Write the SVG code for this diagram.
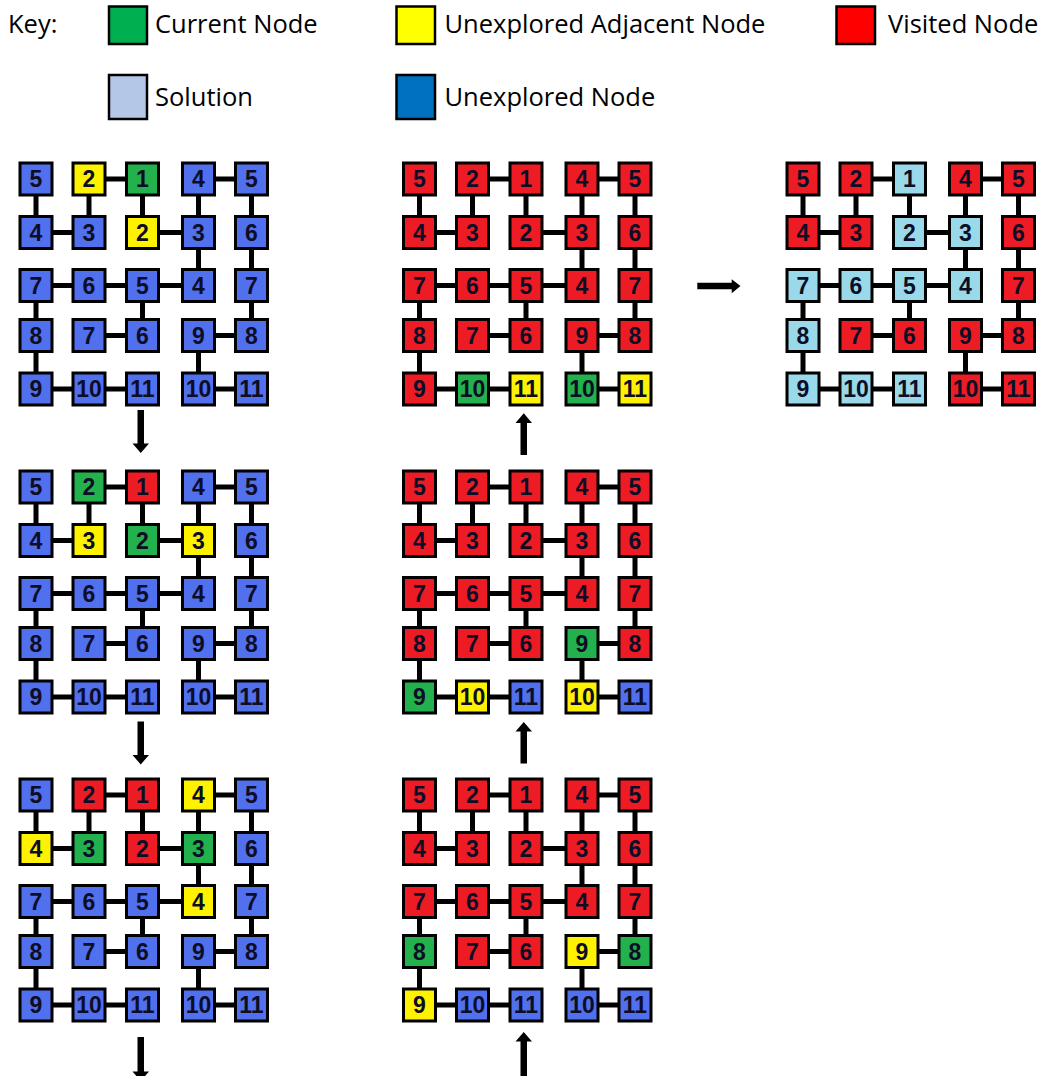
<svg xmlns="http://www.w3.org/2000/svg" width="1048" height="1076" viewBox="0 0 1048 1076">
<style>
.n rect{stroke:#000;stroke-width:3}
.n text{font-family:"Liberation Sans",Arial,sans-serif;font-weight:bold;font-size:23px;text-anchor:middle;fill:#0d0d26}
.b rect{fill:#5170EE}
.r rect{fill:#ED1C24}
.g rect{fill:#22B14C}
.y rect{fill:#FFF200}
.s rect{fill:#99D9EA}
.edges{stroke:#000;stroke-width:5;fill:none}
.arrow{fill:#000}
.key rect{stroke:#000;stroke-width:2.5}
.key text{font-family:"Open Sans","Noto Sans",sans-serif;font-size:25.5px;fill:#000}
</style>
<defs>
<path id="maze" class="edges" d="M89 179H142.5M198.5 179H251.5M36 179V232.5M89 179V232.5M142.5 179V232.5M198.5 179V232.5M251.5 179V232.5M36 232.5H89M142.5 232.5H198.5M198.5 232.5V285.5M251.5 232.5V285.5M36 285.5H89M89 285.5H142.5M142.5 285.5H198.5M36 285.5V335.5M142.5 285.5V335.5M251.5 285.5V335.5M89 335.5H142.5M198.5 335.5H251.5M36 335.5V389M198.5 335.5V389M36 389H89M89 389H142.5M198.5 389H251.5"/>
</defs>
<rect width="1048" height="1076" fill="#fff"/>
<g id="key" class="key">
<text x="8" y="33">Key:</text>
<g id="key-current"><rect x="109" y="6.5" width="38" height="37.5" fill="#00B050"/><text x="155" y="33">Current Node</text></g>
<g id="key-adjacent"><rect x="396.5" y="6.5" width="38.5" height="37.5" fill="#FFFF00"/><text x="444.5" y="33">Unexplored Adjacent Node</text></g>
<g id="key-visited"><rect x="836.5" y="6.5" width="38.5" height="37.5" fill="#FF0000"/><text x="888" y="33">Visited Node</text></g>
<g id="key-solution"><rect x="109" y="75" width="38" height="44" fill="#B4C7E7"/><text x="155" y="106">Solution</text></g>
<g id="key-unexplored"><rect x="396.5" y="75" width="38.5" height="44" fill="#0070C0"/><text x="444.5" y="106">Unexplored Node</text></g>
</g>
<g id="connectors">
<use href="#maze"/>
<use href="#maze" transform="translate(0,308)"/>
<use href="#maze" transform="translate(0,616)"/>
<use href="#maze" transform="translate(383.5,0)"/>
<use href="#maze" transform="translate(383.5,308)"/>
<use href="#maze" transform="translate(383.5,616)"/>
<use href="#maze" transform="translate(767,0)"/>
<polygon class="arrow" points="137.5,410 144,410 144,443.5 149,443.5 140.75,453 132.5,443.5 137.5,443.5"/>
<polygon class="arrow" points="137.5,721.5 144,721.5 144,755 149,755 140.75,764.5 132.5,755 137.5,755"/>
<polygon class="arrow" points="137.5,1037 144,1037 144,1071.5 149,1071.5 140.75,1081 132.5,1071.5 137.5,1071.5"/>
<polygon class="arrow" points="520.5,455 527,455 527,423 532,423 523.75,413.3 515.5,423 520.5,423"/>
<polygon class="arrow" points="520.5,763.5 527,763.5 527,731.5 532,731.5 523.75,722 515.5,731.5 520.5,731.5"/>
<polygon class="arrow" points="520.5,1076 527,1076 527,1041.5 532,1041.5 523.75,1032 515.5,1041.5 520.5,1041.5"/>
<polygon class="arrow" points="697.3,282.7 731.7,282.7 731.7,279.3 740.5,286 731.7,293.3 731.7,289.3 697.3,289.3"/>
</g>
<g id="grid-1" transform="translate(0,0)">
<g id="g1-r0c0" class="n b"><rect x="20" y="163" width="32" height="32"/><text x="36" y="187.2">5</text></g>
<g id="g1-r0c1" class="n y"><rect x="73" y="163" width="32" height="32"/><text x="89" y="187.2">2</text></g>
<g id="g1-r0c2" class="n g"><rect x="126.5" y="163" width="32" height="32"/><text x="142.5" y="187.2">1</text></g>
<g id="g1-r0c3" class="n b"><rect x="182.5" y="163" width="32" height="32"/><text x="198.5" y="187.2">4</text></g>
<g id="g1-r0c4" class="n b"><rect x="235.5" y="163" width="32" height="32"/><text x="251.5" y="187.2">5</text></g>
<g id="g1-r1c0" class="n b"><rect x="20" y="216.5" width="32" height="32"/><text x="36" y="240.7">4</text></g>
<g id="g1-r1c1" class="n b"><rect x="73" y="216.5" width="32" height="32"/><text x="89" y="240.7">3</text></g>
<g id="g1-r1c2" class="n y"><rect x="126.5" y="216.5" width="32" height="32"/><text x="142.5" y="240.7">2</text></g>
<g id="g1-r1c3" class="n b"><rect x="182.5" y="216.5" width="32" height="32"/><text x="198.5" y="240.7">3</text></g>
<g id="g1-r1c4" class="n b"><rect x="235.5" y="216.5" width="32" height="32"/><text x="251.5" y="240.7">6</text></g>
<g id="g1-r2c0" class="n b"><rect x="20" y="269.5" width="32" height="32"/><text x="36" y="293.7">7</text></g>
<g id="g1-r2c1" class="n b"><rect x="73" y="269.5" width="32" height="32"/><text x="89" y="293.7">6</text></g>
<g id="g1-r2c2" class="n b"><rect x="126.5" y="269.5" width="32" height="32"/><text x="142.5" y="293.7">5</text></g>
<g id="g1-r2c3" class="n b"><rect x="182.5" y="269.5" width="32" height="32"/><text x="198.5" y="293.7">4</text></g>
<g id="g1-r2c4" class="n b"><rect x="235.5" y="269.5" width="32" height="32"/><text x="251.5" y="293.7">7</text></g>
<g id="g1-r3c0" class="n b"><rect x="20" y="319.5" width="32" height="32"/><text x="36" y="343.7">8</text></g>
<g id="g1-r3c1" class="n b"><rect x="73" y="319.5" width="32" height="32"/><text x="89" y="343.7">7</text></g>
<g id="g1-r3c2" class="n b"><rect x="126.5" y="319.5" width="32" height="32"/><text x="142.5" y="343.7">6</text></g>
<g id="g1-r3c3" class="n b"><rect x="182.5" y="319.5" width="32" height="32"/><text x="198.5" y="343.7">9</text></g>
<g id="g1-r3c4" class="n b"><rect x="235.5" y="319.5" width="32" height="32"/><text x="251.5" y="343.7">8</text></g>
<g id="g1-r4c0" class="n b"><rect x="20" y="373" width="32" height="32"/><text x="36" y="397.2">9</text></g>
<g id="g1-r4c1" class="n b"><rect x="73" y="373" width="32" height="32"/><text x="89" y="397.2">10</text></g>
<g id="g1-r4c2" class="n b"><rect x="126.5" y="373" width="32" height="32"/><text x="142.5" y="397.2">11</text></g>
<g id="g1-r4c3" class="n b"><rect x="182.5" y="373" width="32" height="32"/><text x="198.5" y="397.2">10</text></g>
<g id="g1-r4c4" class="n b"><rect x="235.5" y="373" width="32" height="32"/><text x="251.5" y="397.2">11</text></g>
</g>
<g id="grid-2" transform="translate(0,308)">
<g id="g2-r0c0" class="n b"><rect x="20" y="163" width="32" height="32"/><text x="36" y="187.2">5</text></g>
<g id="g2-r0c1" class="n g"><rect x="73" y="163" width="32" height="32"/><text x="89" y="187.2">2</text></g>
<g id="g2-r0c2" class="n r"><rect x="126.5" y="163" width="32" height="32"/><text x="142.5" y="187.2">1</text></g>
<g id="g2-r0c3" class="n b"><rect x="182.5" y="163" width="32" height="32"/><text x="198.5" y="187.2">4</text></g>
<g id="g2-r0c4" class="n b"><rect x="235.5" y="163" width="32" height="32"/><text x="251.5" y="187.2">5</text></g>
<g id="g2-r1c0" class="n b"><rect x="20" y="216.5" width="32" height="32"/><text x="36" y="240.7">4</text></g>
<g id="g2-r1c1" class="n y"><rect x="73" y="216.5" width="32" height="32"/><text x="89" y="240.7">3</text></g>
<g id="g2-r1c2" class="n g"><rect x="126.5" y="216.5" width="32" height="32"/><text x="142.5" y="240.7">2</text></g>
<g id="g2-r1c3" class="n y"><rect x="182.5" y="216.5" width="32" height="32"/><text x="198.5" y="240.7">3</text></g>
<g id="g2-r1c4" class="n b"><rect x="235.5" y="216.5" width="32" height="32"/><text x="251.5" y="240.7">6</text></g>
<g id="g2-r2c0" class="n b"><rect x="20" y="269.5" width="32" height="32"/><text x="36" y="293.7">7</text></g>
<g id="g2-r2c1" class="n b"><rect x="73" y="269.5" width="32" height="32"/><text x="89" y="293.7">6</text></g>
<g id="g2-r2c2" class="n b"><rect x="126.5" y="269.5" width="32" height="32"/><text x="142.5" y="293.7">5</text></g>
<g id="g2-r2c3" class="n b"><rect x="182.5" y="269.5" width="32" height="32"/><text x="198.5" y="293.7">4</text></g>
<g id="g2-r2c4" class="n b"><rect x="235.5" y="269.5" width="32" height="32"/><text x="251.5" y="293.7">7</text></g>
<g id="g2-r3c0" class="n b"><rect x="20" y="319.5" width="32" height="32"/><text x="36" y="343.7">8</text></g>
<g id="g2-r3c1" class="n b"><rect x="73" y="319.5" width="32" height="32"/><text x="89" y="343.7">7</text></g>
<g id="g2-r3c2" class="n b"><rect x="126.5" y="319.5" width="32" height="32"/><text x="142.5" y="343.7">6</text></g>
<g id="g2-r3c3" class="n b"><rect x="182.5" y="319.5" width="32" height="32"/><text x="198.5" y="343.7">9</text></g>
<g id="g2-r3c4" class="n b"><rect x="235.5" y="319.5" width="32" height="32"/><text x="251.5" y="343.7">8</text></g>
<g id="g2-r4c0" class="n b"><rect x="20" y="373" width="32" height="32"/><text x="36" y="397.2">9</text></g>
<g id="g2-r4c1" class="n b"><rect x="73" y="373" width="32" height="32"/><text x="89" y="397.2">10</text></g>
<g id="g2-r4c2" class="n b"><rect x="126.5" y="373" width="32" height="32"/><text x="142.5" y="397.2">11</text></g>
<g id="g2-r4c3" class="n b"><rect x="182.5" y="373" width="32" height="32"/><text x="198.5" y="397.2">10</text></g>
<g id="g2-r4c4" class="n b"><rect x="235.5" y="373" width="32" height="32"/><text x="251.5" y="397.2">11</text></g>
</g>
<g id="grid-3" transform="translate(0,616)">
<g id="g3-r0c0" class="n b"><rect x="20" y="163" width="32" height="32"/><text x="36" y="187.2">5</text></g>
<g id="g3-r0c1" class="n r"><rect x="73" y="163" width="32" height="32"/><text x="89" y="187.2">2</text></g>
<g id="g3-r0c2" class="n r"><rect x="126.5" y="163" width="32" height="32"/><text x="142.5" y="187.2">1</text></g>
<g id="g3-r0c3" class="n y"><rect x="182.5" y="163" width="32" height="32"/><text x="198.5" y="187.2">4</text></g>
<g id="g3-r0c4" class="n b"><rect x="235.5" y="163" width="32" height="32"/><text x="251.5" y="187.2">5</text></g>
<g id="g3-r1c0" class="n y"><rect x="20" y="216.5" width="32" height="32"/><text x="36" y="240.7">4</text></g>
<g id="g3-r1c1" class="n g"><rect x="73" y="216.5" width="32" height="32"/><text x="89" y="240.7">3</text></g>
<g id="g3-r1c2" class="n r"><rect x="126.5" y="216.5" width="32" height="32"/><text x="142.5" y="240.7">2</text></g>
<g id="g3-r1c3" class="n g"><rect x="182.5" y="216.5" width="32" height="32"/><text x="198.5" y="240.7">3</text></g>
<g id="g3-r1c4" class="n b"><rect x="235.5" y="216.5" width="32" height="32"/><text x="251.5" y="240.7">6</text></g>
<g id="g3-r2c0" class="n b"><rect x="20" y="269.5" width="32" height="32"/><text x="36" y="293.7">7</text></g>
<g id="g3-r2c1" class="n b"><rect x="73" y="269.5" width="32" height="32"/><text x="89" y="293.7">6</text></g>
<g id="g3-r2c2" class="n b"><rect x="126.5" y="269.5" width="32" height="32"/><text x="142.5" y="293.7">5</text></g>
<g id="g3-r2c3" class="n y"><rect x="182.5" y="269.5" width="32" height="32"/><text x="198.5" y="293.7">4</text></g>
<g id="g3-r2c4" class="n b"><rect x="235.5" y="269.5" width="32" height="32"/><text x="251.5" y="293.7">7</text></g>
<g id="g3-r3c0" class="n b"><rect x="20" y="319.5" width="32" height="32"/><text x="36" y="343.7">8</text></g>
<g id="g3-r3c1" class="n b"><rect x="73" y="319.5" width="32" height="32"/><text x="89" y="343.7">7</text></g>
<g id="g3-r3c2" class="n b"><rect x="126.5" y="319.5" width="32" height="32"/><text x="142.5" y="343.7">6</text></g>
<g id="g3-r3c3" class="n b"><rect x="182.5" y="319.5" width="32" height="32"/><text x="198.5" y="343.7">9</text></g>
<g id="g3-r3c4" class="n b"><rect x="235.5" y="319.5" width="32" height="32"/><text x="251.5" y="343.7">8</text></g>
<g id="g3-r4c0" class="n b"><rect x="20" y="373" width="32" height="32"/><text x="36" y="397.2">9</text></g>
<g id="g3-r4c1" class="n b"><rect x="73" y="373" width="32" height="32"/><text x="89" y="397.2">10</text></g>
<g id="g3-r4c2" class="n b"><rect x="126.5" y="373" width="32" height="32"/><text x="142.5" y="397.2">11</text></g>
<g id="g3-r4c3" class="n b"><rect x="182.5" y="373" width="32" height="32"/><text x="198.5" y="397.2">10</text></g>
<g id="g3-r4c4" class="n b"><rect x="235.5" y="373" width="32" height="32"/><text x="251.5" y="397.2">11</text></g>
</g>
<g id="grid-4" transform="translate(383.5,616)">
<g id="g4-r0c0" class="n r"><rect x="20" y="163" width="32" height="32"/><text x="36" y="187.2">5</text></g>
<g id="g4-r0c1" class="n r"><rect x="73" y="163" width="32" height="32"/><text x="89" y="187.2">2</text></g>
<g id="g4-r0c2" class="n r"><rect x="126.5" y="163" width="32" height="32"/><text x="142.5" y="187.2">1</text></g>
<g id="g4-r0c3" class="n r"><rect x="182.5" y="163" width="32" height="32"/><text x="198.5" y="187.2">4</text></g>
<g id="g4-r0c4" class="n r"><rect x="235.5" y="163" width="32" height="32"/><text x="251.5" y="187.2">5</text></g>
<g id="g4-r1c0" class="n r"><rect x="20" y="216.5" width="32" height="32"/><text x="36" y="240.7">4</text></g>
<g id="g4-r1c1" class="n r"><rect x="73" y="216.5" width="32" height="32"/><text x="89" y="240.7">3</text></g>
<g id="g4-r1c2" class="n r"><rect x="126.5" y="216.5" width="32" height="32"/><text x="142.5" y="240.7">2</text></g>
<g id="g4-r1c3" class="n r"><rect x="182.5" y="216.5" width="32" height="32"/><text x="198.5" y="240.7">3</text></g>
<g id="g4-r1c4" class="n r"><rect x="235.5" y="216.5" width="32" height="32"/><text x="251.5" y="240.7">6</text></g>
<g id="g4-r2c0" class="n r"><rect x="20" y="269.5" width="32" height="32"/><text x="36" y="293.7">7</text></g>
<g id="g4-r2c1" class="n r"><rect x="73" y="269.5" width="32" height="32"/><text x="89" y="293.7">6</text></g>
<g id="g4-r2c2" class="n r"><rect x="126.5" y="269.5" width="32" height="32"/><text x="142.5" y="293.7">5</text></g>
<g id="g4-r2c3" class="n r"><rect x="182.5" y="269.5" width="32" height="32"/><text x="198.5" y="293.7">4</text></g>
<g id="g4-r2c4" class="n r"><rect x="235.5" y="269.5" width="32" height="32"/><text x="251.5" y="293.7">7</text></g>
<g id="g4-r3c0" class="n g"><rect x="20" y="319.5" width="32" height="32"/><text x="36" y="343.7">8</text></g>
<g id="g4-r3c1" class="n r"><rect x="73" y="319.5" width="32" height="32"/><text x="89" y="343.7">7</text></g>
<g id="g4-r3c2" class="n r"><rect x="126.5" y="319.5" width="32" height="32"/><text x="142.5" y="343.7">6</text></g>
<g id="g4-r3c3" class="n y"><rect x="182.5" y="319.5" width="32" height="32"/><text x="198.5" y="343.7">9</text></g>
<g id="g4-r3c4" class="n g"><rect x="235.5" y="319.5" width="32" height="32"/><text x="251.5" y="343.7">8</text></g>
<g id="g4-r4c0" class="n y"><rect x="20" y="373" width="32" height="32"/><text x="36" y="397.2">9</text></g>
<g id="g4-r4c1" class="n b"><rect x="73" y="373" width="32" height="32"/><text x="89" y="397.2">10</text></g>
<g id="g4-r4c2" class="n b"><rect x="126.5" y="373" width="32" height="32"/><text x="142.5" y="397.2">11</text></g>
<g id="g4-r4c3" class="n b"><rect x="182.5" y="373" width="32" height="32"/><text x="198.5" y="397.2">10</text></g>
<g id="g4-r4c4" class="n b"><rect x="235.5" y="373" width="32" height="32"/><text x="251.5" y="397.2">11</text></g>
</g>
<g id="grid-5" transform="translate(383.5,308)">
<g id="g5-r0c0" class="n r"><rect x="20" y="163" width="32" height="32"/><text x="36" y="187.2">5</text></g>
<g id="g5-r0c1" class="n r"><rect x="73" y="163" width="32" height="32"/><text x="89" y="187.2">2</text></g>
<g id="g5-r0c2" class="n r"><rect x="126.5" y="163" width="32" height="32"/><text x="142.5" y="187.2">1</text></g>
<g id="g5-r0c3" class="n r"><rect x="182.5" y="163" width="32" height="32"/><text x="198.5" y="187.2">4</text></g>
<g id="g5-r0c4" class="n r"><rect x="235.5" y="163" width="32" height="32"/><text x="251.5" y="187.2">5</text></g>
<g id="g5-r1c0" class="n r"><rect x="20" y="216.5" width="32" height="32"/><text x="36" y="240.7">4</text></g>
<g id="g5-r1c1" class="n r"><rect x="73" y="216.5" width="32" height="32"/><text x="89" y="240.7">3</text></g>
<g id="g5-r1c2" class="n r"><rect x="126.5" y="216.5" width="32" height="32"/><text x="142.5" y="240.7">2</text></g>
<g id="g5-r1c3" class="n r"><rect x="182.5" y="216.5" width="32" height="32"/><text x="198.5" y="240.7">3</text></g>
<g id="g5-r1c4" class="n r"><rect x="235.5" y="216.5" width="32" height="32"/><text x="251.5" y="240.7">6</text></g>
<g id="g5-r2c0" class="n r"><rect x="20" y="269.5" width="32" height="32"/><text x="36" y="293.7">7</text></g>
<g id="g5-r2c1" class="n r"><rect x="73" y="269.5" width="32" height="32"/><text x="89" y="293.7">6</text></g>
<g id="g5-r2c2" class="n r"><rect x="126.5" y="269.5" width="32" height="32"/><text x="142.5" y="293.7">5</text></g>
<g id="g5-r2c3" class="n r"><rect x="182.5" y="269.5" width="32" height="32"/><text x="198.5" y="293.7">4</text></g>
<g id="g5-r2c4" class="n r"><rect x="235.5" y="269.5" width="32" height="32"/><text x="251.5" y="293.7">7</text></g>
<g id="g5-r3c0" class="n r"><rect x="20" y="319.5" width="32" height="32"/><text x="36" y="343.7">8</text></g>
<g id="g5-r3c1" class="n r"><rect x="73" y="319.5" width="32" height="32"/><text x="89" y="343.7">7</text></g>
<g id="g5-r3c2" class="n r"><rect x="126.5" y="319.5" width="32" height="32"/><text x="142.5" y="343.7">6</text></g>
<g id="g5-r3c3" class="n g"><rect x="182.5" y="319.5" width="32" height="32"/><text x="198.5" y="343.7">9</text></g>
<g id="g5-r3c4" class="n r"><rect x="235.5" y="319.5" width="32" height="32"/><text x="251.5" y="343.7">8</text></g>
<g id="g5-r4c0" class="n g"><rect x="20" y="373" width="32" height="32"/><text x="36" y="397.2">9</text></g>
<g id="g5-r4c1" class="n y"><rect x="73" y="373" width="32" height="32"/><text x="89" y="397.2">10</text></g>
<g id="g5-r4c2" class="n b"><rect x="126.5" y="373" width="32" height="32"/><text x="142.5" y="397.2">11</text></g>
<g id="g5-r4c3" class="n y"><rect x="182.5" y="373" width="32" height="32"/><text x="198.5" y="397.2">10</text></g>
<g id="g5-r4c4" class="n b"><rect x="235.5" y="373" width="32" height="32"/><text x="251.5" y="397.2">11</text></g>
</g>
<g id="grid-6" transform="translate(383.5,0)">
<g id="g6-r0c0" class="n r"><rect x="20" y="163" width="32" height="32"/><text x="36" y="187.2">5</text></g>
<g id="g6-r0c1" class="n r"><rect x="73" y="163" width="32" height="32"/><text x="89" y="187.2">2</text></g>
<g id="g6-r0c2" class="n r"><rect x="126.5" y="163" width="32" height="32"/><text x="142.5" y="187.2">1</text></g>
<g id="g6-r0c3" class="n r"><rect x="182.5" y="163" width="32" height="32"/><text x="198.5" y="187.2">4</text></g>
<g id="g6-r0c4" class="n r"><rect x="235.5" y="163" width="32" height="32"/><text x="251.5" y="187.2">5</text></g>
<g id="g6-r1c0" class="n r"><rect x="20" y="216.5" width="32" height="32"/><text x="36" y="240.7">4</text></g>
<g id="g6-r1c1" class="n r"><rect x="73" y="216.5" width="32" height="32"/><text x="89" y="240.7">3</text></g>
<g id="g6-r1c2" class="n r"><rect x="126.5" y="216.5" width="32" height="32"/><text x="142.5" y="240.7">2</text></g>
<g id="g6-r1c3" class="n r"><rect x="182.5" y="216.5" width="32" height="32"/><text x="198.5" y="240.7">3</text></g>
<g id="g6-r1c4" class="n r"><rect x="235.5" y="216.5" width="32" height="32"/><text x="251.5" y="240.7">6</text></g>
<g id="g6-r2c0" class="n r"><rect x="20" y="269.5" width="32" height="32"/><text x="36" y="293.7">7</text></g>
<g id="g6-r2c1" class="n r"><rect x="73" y="269.5" width="32" height="32"/><text x="89" y="293.7">6</text></g>
<g id="g6-r2c2" class="n r"><rect x="126.5" y="269.5" width="32" height="32"/><text x="142.5" y="293.7">5</text></g>
<g id="g6-r2c3" class="n r"><rect x="182.5" y="269.5" width="32" height="32"/><text x="198.5" y="293.7">4</text></g>
<g id="g6-r2c4" class="n r"><rect x="235.5" y="269.5" width="32" height="32"/><text x="251.5" y="293.7">7</text></g>
<g id="g6-r3c0" class="n r"><rect x="20" y="319.5" width="32" height="32"/><text x="36" y="343.7">8</text></g>
<g id="g6-r3c1" class="n r"><rect x="73" y="319.5" width="32" height="32"/><text x="89" y="343.7">7</text></g>
<g id="g6-r3c2" class="n r"><rect x="126.5" y="319.5" width="32" height="32"/><text x="142.5" y="343.7">6</text></g>
<g id="g6-r3c3" class="n r"><rect x="182.5" y="319.5" width="32" height="32"/><text x="198.5" y="343.7">9</text></g>
<g id="g6-r3c4" class="n r"><rect x="235.5" y="319.5" width="32" height="32"/><text x="251.5" y="343.7">8</text></g>
<g id="g6-r4c0" class="n r"><rect x="20" y="373" width="32" height="32"/><text x="36" y="397.2">9</text></g>
<g id="g6-r4c1" class="n g"><rect x="73" y="373" width="32" height="32"/><text x="89" y="397.2">10</text></g>
<g id="g6-r4c2" class="n y"><rect x="126.5" y="373" width="32" height="32"/><text x="142.5" y="397.2">11</text></g>
<g id="g6-r4c3" class="n g"><rect x="182.5" y="373" width="32" height="32"/><text x="198.5" y="397.2">10</text></g>
<g id="g6-r4c4" class="n y"><rect x="235.5" y="373" width="32" height="32"/><text x="251.5" y="397.2">11</text></g>
</g>
<g id="grid-7" transform="translate(767,0)">
<g id="g7-r0c0" class="n r"><rect x="20" y="163" width="32" height="32"/><text x="36" y="187.2">5</text></g>
<g id="g7-r0c1" class="n r"><rect x="73" y="163" width="32" height="32"/><text x="89" y="187.2">2</text></g>
<g id="g7-r0c2" class="n s"><rect x="126.5" y="163" width="32" height="32"/><text x="142.5" y="187.2">1</text></g>
<g id="g7-r0c3" class="n r"><rect x="182.5" y="163" width="32" height="32"/><text x="198.5" y="187.2">4</text></g>
<g id="g7-r0c4" class="n r"><rect x="235.5" y="163" width="32" height="32"/><text x="251.5" y="187.2">5</text></g>
<g id="g7-r1c0" class="n r"><rect x="20" y="216.5" width="32" height="32"/><text x="36" y="240.7">4</text></g>
<g id="g7-r1c1" class="n r"><rect x="73" y="216.5" width="32" height="32"/><text x="89" y="240.7">3</text></g>
<g id="g7-r1c2" class="n s"><rect x="126.5" y="216.5" width="32" height="32"/><text x="142.5" y="240.7">2</text></g>
<g id="g7-r1c3" class="n s"><rect x="182.5" y="216.5" width="32" height="32"/><text x="198.5" y="240.7">3</text></g>
<g id="g7-r1c4" class="n r"><rect x="235.5" y="216.5" width="32" height="32"/><text x="251.5" y="240.7">6</text></g>
<g id="g7-r2c0" class="n s"><rect x="20" y="269.5" width="32" height="32"/><text x="36" y="293.7">7</text></g>
<g id="g7-r2c1" class="n s"><rect x="73" y="269.5" width="32" height="32"/><text x="89" y="293.7">6</text></g>
<g id="g7-r2c2" class="n s"><rect x="126.5" y="269.5" width="32" height="32"/><text x="142.5" y="293.7">5</text></g>
<g id="g7-r2c3" class="n s"><rect x="182.5" y="269.5" width="32" height="32"/><text x="198.5" y="293.7">4</text></g>
<g id="g7-r2c4" class="n r"><rect x="235.5" y="269.5" width="32" height="32"/><text x="251.5" y="293.7">7</text></g>
<g id="g7-r3c0" class="n s"><rect x="20" y="319.5" width="32" height="32"/><text x="36" y="343.7">8</text></g>
<g id="g7-r3c1" class="n r"><rect x="73" y="319.5" width="32" height="32"/><text x="89" y="343.7">7</text></g>
<g id="g7-r3c2" class="n r"><rect x="126.5" y="319.5" width="32" height="32"/><text x="142.5" y="343.7">6</text></g>
<g id="g7-r3c3" class="n r"><rect x="182.5" y="319.5" width="32" height="32"/><text x="198.5" y="343.7">9</text></g>
<g id="g7-r3c4" class="n r"><rect x="235.5" y="319.5" width="32" height="32"/><text x="251.5" y="343.7">8</text></g>
<g id="g7-r4c0" class="n s"><rect x="20" y="373" width="32" height="32"/><text x="36" y="397.2">9</text></g>
<g id="g7-r4c1" class="n s"><rect x="73" y="373" width="32" height="32"/><text x="89" y="397.2">10</text></g>
<g id="g7-r4c2" class="n s"><rect x="126.5" y="373" width="32" height="32"/><text x="142.5" y="397.2">11</text></g>
<g id="g7-r4c3" class="n r"><rect x="182.5" y="373" width="32" height="32"/><text x="198.5" y="397.2">10</text></g>
<g id="g7-r4c4" class="n r"><rect x="235.5" y="373" width="32" height="32"/><text x="251.5" y="397.2">11</text></g>
</g>
</svg>
